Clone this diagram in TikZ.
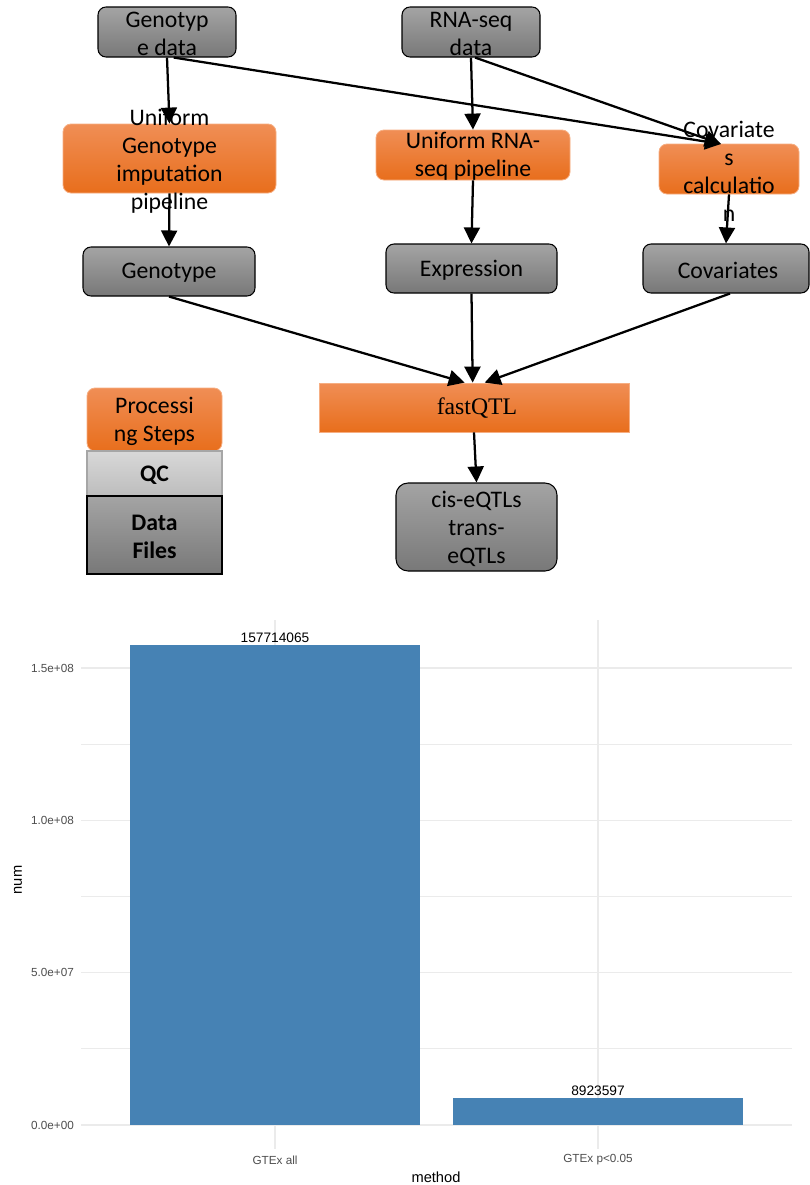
\documentclass[tikz,border=0pt]{standalone}
\usepackage{fontspec}
\newfontfamily\carlito{Carlito}
\newfontfamily\liberationsans{Liberation Sans}
\newfontfamily\liberationserif{Liberation Serif}
\usetikzlibrary{arrows.meta}

\definecolor{graytop}{HTML}{A4A4A4}
\definecolor{graybot}{HTML}{787878}
\definecolor{orangetop}{HTML}{F08E55}
\definecolor{orangebot}{HTML}{E86E1C}
\definecolor{orangeedge}{HTML}{F6AE82}
\definecolor{qctop}{HTML}{D8D8D8}
\definecolor{qcbot}{HTML}{BDBDBD}
\definecolor{qcedge}{HTML}{A6A6A6}
\definecolor{barblue}{HTML}{4682B4}
\definecolor{gridgray}{HTML}{EBEBEB}
\definecolor{ticktext}{HTML}{4D4D4D}

\begin{document}
\begin{tikzpicture}[x=0.75pt, y=-0.75pt, line width=1.7pt,
    databox/.style={rounded corners=6pt, draw=black, line width=0.8pt, top color=graytop, bottom color=graybot},
    stepbox/.style={rounded corners=6pt, draw=orangeedge, line width=0.6pt, top color=orangetop, bottom color=orangebot},
    txt/.style={align=center, inner sep=0pt, font=\fontsize{17.8}{21}\selectfont\carlito},
    flow/.style={-{Triangle[length=12pt, width=12pt]}, line width=1.7pt},
    majorgrid/.style={draw=gridgray, line width=1.1pt},
    minorgrid/.style={draw=gridgray, line width=0.6pt},
    ticklbl/.style={inner sep=0pt, text=ticktext, font=\fontsize{8.8}{10}\selectfont\liberationsans},
    barlbl/.style={inner sep=0pt, font=\fontsize{10.3}{12}\selectfont\liberationsans},
    axtitle/.style={inner sep=0pt, font=\fontsize{11}{13}\selectfont\liberationsans}]
    \useasboundingbox (0,0) rectangle (810,1185);

    % Nodes
    \node (gdata) [databox, minimum width=103.5pt, minimum height=37.5pt] at (167,32) {};
    \node (gdatatxt) [txt] at (167,33.5) {Genotyp\\e data};
    \node (rdata) [databox, minimum width=103.5pt, minimum height=37.5pt] at (471,32) {};
    \node (rdatatxt) [txt] at (471,33.5) {RNA-seq\\data};

    \node (gimp) [stepbox, minimum width=159.75pt, minimum height=51.75pt] at (169.5,158.5) {};
    \node (gimptxt) [txt] at (169.5,161) {Uniform\\Genotype\\imputation\\pipeline};
    \node (rpipe) [stepbox, minimum width=145.5pt, minimum height=37.5pt] at (473,155) {};
    \node (rpipetxt) [txt] at (473,156.5) {Uniform RNA-\\seq pipeline};
    \node (covcalc) [stepbox, minimum width=105pt, minimum height=37.5pt] at (729,169) {};
    \node (covcalctxt) [txt] at (729,171.5) {Covariate\\s\\calculatio\\n};
    \coordinate (covin) at (721,144);

    \node (geno) [databox, minimum width=129pt, minimum height=36.75pt] at (169,271.5) {};
    \node (genotxt) [txt] at (169,273) {Genotype};
    \node (expr) [databox, minimum width=128.25pt, minimum height=36.75pt] at (471.5,268.5) {};
    \node (exprtxt) [txt] at (471.5,270) {Expression};
    \node (covs) [databox, minimum width=124.5pt, minimum height=36.75pt] at (726,268.5) {};
    \node (covstxt) [txt] at (728,270) {Covariates};

    \node (fastqtl) [stepbox, rounded corners=0pt, minimum width=232.5pt, minimum height=36.75pt] at (474,407.5) {};
    \node (fastqtltxt) [txt, font=\fontsize{17.8}{21}\selectfont\liberationserif] at (477,408.5) {fastQTL};
    \node (cis) [databox, rounded corners=9pt, minimum width=120.75pt, minimum height=66pt] at (476.5,527) {};
    \node (cistxt) [txt] at (476.5,529) {cis-eQTLs\\trans-\\eQTLs};

    % Legend
    \node (legproc) [stepbox, minimum width=101.25pt, minimum height=47.25pt] at (154.5,419.5) {};
    \node (legproctxt) [txt] at (154.5,421) {Processi\\ng Steps};
    \node (legqc) [draw=qcedge, line width=0.8pt, top color=qctop, bottom color=qcbot, minimum width=101.25pt, minimum height=33.75pt] at (154.5,473.5) {};
    \node (legqctxt) [txt, font=\fontsize{17.8}{21}\selectfont\carlito\bfseries] at (154.5,475) {QC};
    \node (legdata) [draw=black, line width=0.8pt, top color=graytop, bottom color=graybot, minimum width=101.25pt, minimum height=58.5pt] at (154.5,535) {};
    \node (legdatatxt) [txt, font=\fontsize{17.8}{21}\selectfont\carlito\bfseries] at (154.5,537) {Data\\Files};

    % Lines
    \draw [flow] (gdata.south) -- (gimp.north);
    \draw [flow] ([xshift=5pt]gdata.south) -- (covin);
    \draw [flow] (rdata.south) -- (rpipe.north);
    \draw [flow] ([xshift=3pt]rdata.south) -- (covin);
    \draw [flow] (gimp.south) -- (geno.north);
    \draw [flow] (rpipe.south) -- (expr.north);
    \draw [flow] (covcalc.south) -- (covs.north);
    \draw [flow] (geno.south) -- ([xshift=-7pt]fastqtl.north);
    \draw [flow] (expr.south) -- ([xshift=-1pt]fastqtl.north);
    \draw [flow] ([xshift=3pt]covs.south) -- ([xshift=8pt]fastqtl.north);
    \draw [flow] (fastqtl.south) -- (cis.north);

    % Chart
    \foreach \v in {2.5,7.5,12.5}
      \draw [minorgrid] (81,{1125-\v*30.46}) -- (792,{1125-\v*30.46});
    \foreach \v/\lab in {0/0.0e+00, 5/5.0e+07, 10/1.0e+08, 15/1.5e+08} {
      \draw [majorgrid] (81,{1125-\v*30.46}) -- (792,{1125-\v*30.46});
      \node (ytick\v) [ticklbl, anchor=east] at (75,{1125-\v*30.46}) {\lab};
    }
    \draw [majorgrid] (275,620) -- (275,1149);
    \draw [majorgrid] (598,620) -- (598,1149);

    \fill [barblue] (129.5,1125) rectangle (420,644.6);
    \fill [barblue] (452.5,1125) rectangle (743,1097.8);
    \node (alllbl) [barlbl] at (275,637.5) {157714065};
    \node (plbl) [barlbl] at (598,1090.7) {8923597};

    \node (xtickall) [ticklbl] at (275,1160) {GTEx all};
    \node (xtickp) [ticklbl] at (598,1160) {GTEx p<0.05};
    \node (xtitle) [axtitle] at (436,1177) {method};
    \node (ytitle) [axtitle, rotate=90] at (18,880) {num};
\end{tikzpicture}
\end{document}
